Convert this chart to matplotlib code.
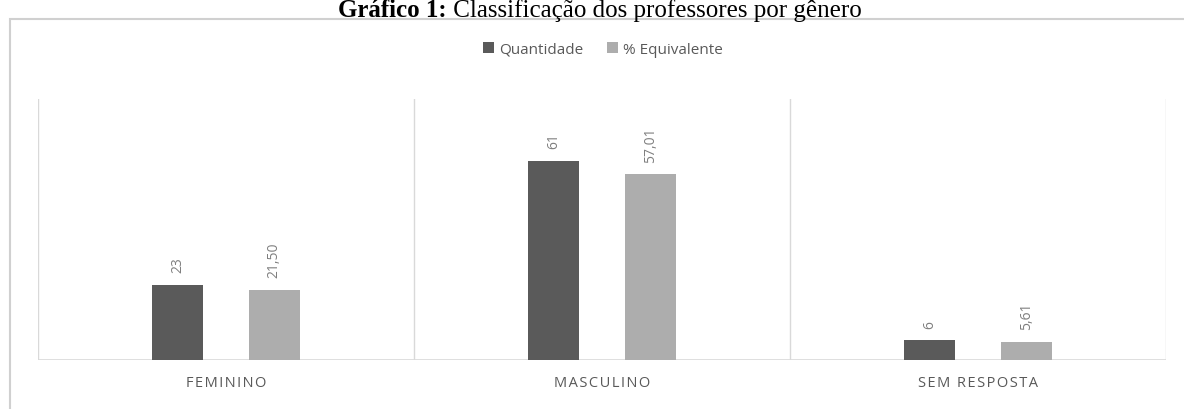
import matplotlib
matplotlib.use('Agg')
import matplotlib.pyplot as plt
import matplotlib.patches as patches
import numpy as np

# Dados do gráfico
categorias = ['FEMININO', 'MASCULINO', 'SEM RESPOSTA']
quantidade = [23, 61, 6]
equivalente = [21.50, 57.01, 5.61]
rotulos_quant = ['23', '61', '6']
rotulos_equiv = ['21,50', '57,01', '5,61']

cor_escura = '#5a5a5a'
cor_clara = '#adadad'
cor_texto = '#595959'
cor_linha = '#d9d9d9'

plt.rcParams['font.family'] = ['Open Sans', 'DejaVu Sans']

fig = plt.figure(figsize=(11.84, 4.10), dpi=100)
ax = fig.add_axes([38 / 1184, 49 / 410, 1128 / 1184, 261 / 410])

x = np.arange(len(categorias))
largura = 0.136
desloc = 0.128

b1 = ax.bar(x - desloc, quantidade, largura, color=cor_escura, label='Quantidade', zorder=3)
b2 = ax.bar(x + desloc, equivalente, largura, color=cor_clara, label='% Equivalente', zorder=3)

# Rótulos de valor verticais acima das barras
for barras, rotulos in ((b1, rotulos_quant), (b2, rotulos_equiv)):
    for barra, rot in zip(barras, rotulos):
        ax.annotate(rot, (barra.get_x() + barra.get_width() / 2, barra.get_height()),
                    xytext=(0, 9), textcoords='offset points', rotation=90,
                    ha='center', va='bottom', fontsize=10, color='#7f7f7f')

ax.set_xlim(-0.5, 2.5)
ax.set_ylim(0, 80)

# Linhas divisórias entre as categorias
for pos in np.arange(-0.5, 3, 1):
    ax.axvline(pos, color=cor_linha, lw=1, zorder=1)
ax.axhline(0, color=cor_linha, lw=1.2, zorder=2)

for lado in ax.spines.values():
    lado.set_visible(False)
ax.set_yticks([])
ax.set_xticks(x)
ax.set_xticklabels(['\u200a'.join(c) for c in categorias], fontsize=10.5, color=cor_texto)
ax.tick_params(axis='x', length=0, pad=11)

fig.legend(loc='center', bbox_to_anchor=(603 / 1184, 1 - 50 / 410), ncol=2, frameon=False,
           handlelength=0.7, handleheight=0.7, handletextpad=0.3, columnspacing=1.6,
           fontsize=11, labelcolor=cor_texto)

# Moldura da área do gráfico
moldura = patches.Rectangle((10 / 1184, -0.02), 1.1, 1 - 20 / 410 + 0.02, transform=fig.transFigure,
                            fill=False, edgecolor='#d0d0d0', lw=1.5, zorder=0)
fig.patches.append(moldura)

# Título centralizado: parte em negrito + restante
y_tit = 1 - 17 / 410
t1 = fig.text(0, y_tit, 'Gráfico 1:', ha='left', va='baseline', fontsize=18,
              fontweight='bold', family='Liberation Serif', color='black')
t2 = fig.text(0, y_tit, ' Classificação dos professores por gênero', ha='left', va='baseline',
              fontsize=18, family='Liberation Serif', color='black')
fig.canvas.draw()
r = fig.canvas.get_renderer()
w1 = t1.get_window_extent(r).width
w2 = t2.get_window_extent(r).width
x0 = 600 - (w1 + w2) / 2
t1.set_x(x0 / 1184)
t2.set_x((x0 + w1) / 1184)

fig.savefig('out.png', dpi=100)
